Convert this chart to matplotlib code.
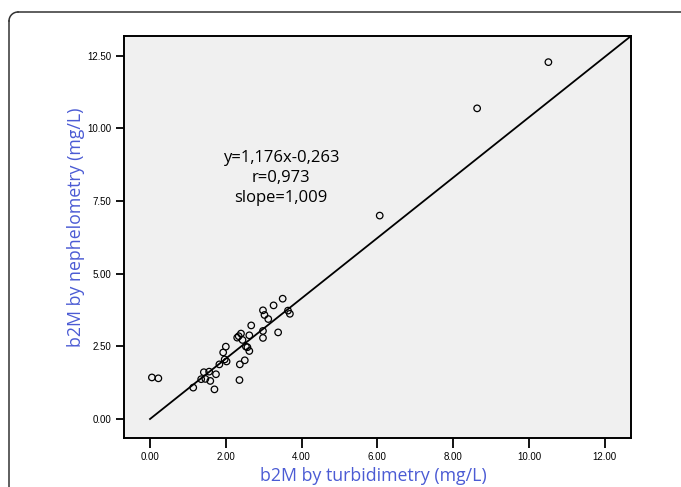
import numpy as np
import matplotlib.pyplot as plt
from matplotlib.path import Path
from matplotlib.patches import PathPatch

turbidimetry = [0.05, 0.22, 1.14, 1.35, 1.42, 1.46, 1.56, 1.59, 1.70, 1.74,
                1.83, 1.93, 2.00, 1.97, 2.02, 2.36, 2.37, 2.50, 2.30, 2.34,
                2.40, 2.44, 2.53, 2.57, 2.62, 2.62, 2.67, 2.98, 2.98, 2.98,
                3.02, 3.12, 3.26, 3.38, 3.50, 3.64, 3.69, 6.06, 8.63, 10.51]
nephelometry = [1.43, 1.40, 1.08, 1.37, 1.61, 1.38, 1.63, 1.31, 1.02, 1.54,
                1.88, 2.29, 2.49, 2.05, 1.98, 1.34, 1.88, 2.02, 2.80, 2.85,
                2.94, 2.72, 2.49, 2.47, 2.34, 2.88, 3.22, 2.79, 3.03, 3.74,
                3.58, 3.44, 3.91, 2.98, 4.14, 3.73, 3.62, 7.00, 10.69, 12.28]

# fitted line, from origin to the upper right corner
line_x = [0.0, 12.69]
line_y = [0.0, 13.18]

x_ticks = [0, 2, 4, 6, 8, 10, 12]
y_ticks = [0, 2.5, 5, 7.5, 10, 12.5]
fit_text = "y=1,176x-0,263\nr=0,973\nslope=1,009"

blue = '#4b5bd4'

fig = plt.figure(figsize=(6.81, 4.87), dpi=100)
ax = fig.add_axes([0.1821, 0.1006, 0.7445, 0.8255])
ax.set_facecolor('#f0f0f0')

ax.plot(line_x, line_y, color='black', lw=1.3)
ax.scatter(turbidimetry, nephelometry, s=22, facecolors='none',
           edgecolors='black', linewidths=0.9, zorder=3)

ax.set_xlim(-0.686, 12.69)
ax.set_ylim(-0.654, 13.18)
ax.set_xticks(x_ticks)
ax.set_yticks(y_ticks)
ax.set_xticklabels(['%.2f' % v for v in x_ticks], fontsize=7, family='Liberation Sans')
ax.set_yticklabels(['%.2f' % v for v in y_ticks], fontsize=7, family='Liberation Sans')
ax.tick_params(direction='out', length=7, width=1.3, pad=3)
ax.tick_params(axis='y', length=6)
ax.tick_params(top=False, right=False)
for s in ax.spines.values():
    s.set_linewidth(1.4)

# axis titles
fig.text(0.548, 0.0226, 'b2M by turbidimetry (mg/L)', fontsize=12.8, color=blue,
         family='Open Sans', ha='center', va='center')
fig.text(0.1116, 0.534, 'b2M by nephelometry (mg/L)', fontsize=12.8, color=blue,
         family='Open Sans', ha='center', va='center', rotation=90)

ax.text(3.45, 8.29, fit_text, ha='center', va='center', fontsize=12,
        family='Open Sans', linespacing=1.3)

# open frame with a rounded top-left corner, in figure fractions
W, H = 681.0, 487.0
fx = [9 / W, 9 / W]
fy = [0.0, 466 / H]
fig.add_artist(plt.Line2D(fx, fy, transform=fig.transFigure, color='#333333', lw=1.1))
fig.add_artist(plt.Line2D([18 / W, 1.0], [475 / H, 475 / H], transform=fig.transFigure,
                          color='#333333', lw=1.1))
t = np.linspace(np.pi, np.pi / 2, 12)
fig.add_artist(plt.Line2D((18 + 9 * np.cos(t)) / W, (466 + 9 * np.sin(t)) / H,
                          transform=fig.transFigure, color='#333333', lw=1.1))

fig.savefig('out.png', dpi=100, facecolor='white')
